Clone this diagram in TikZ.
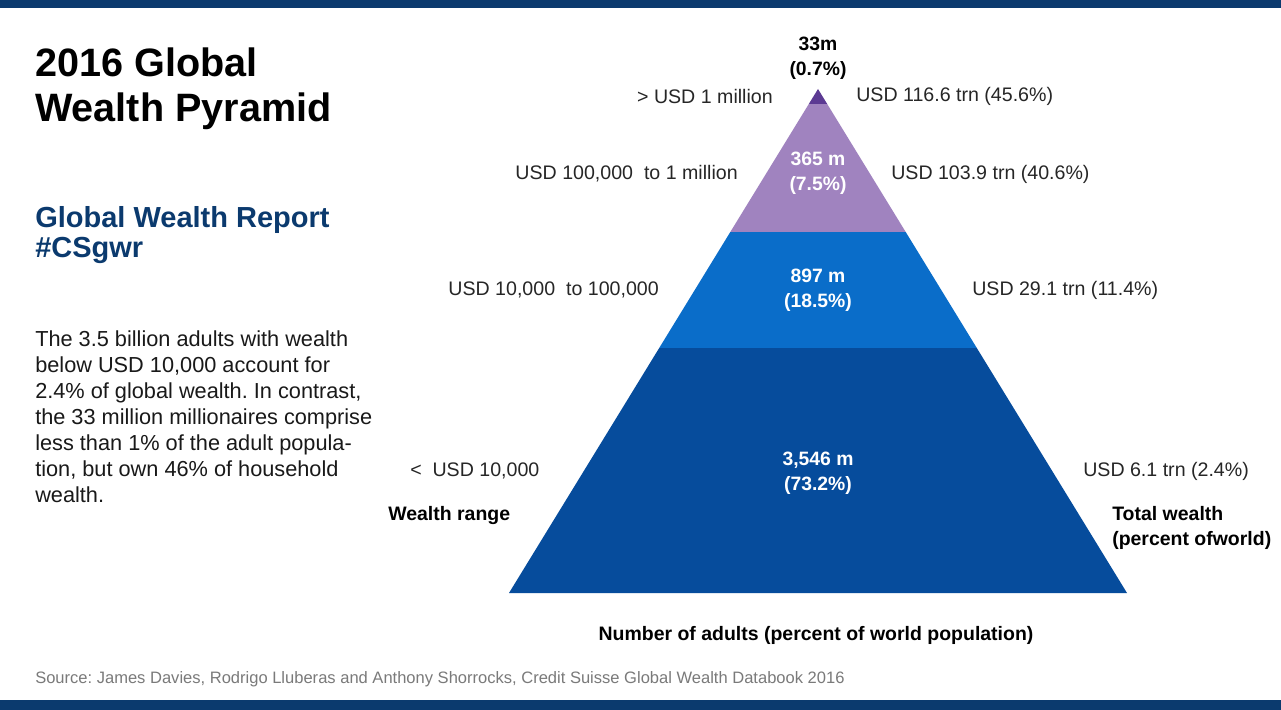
\documentclass[tikz,border=0pt]{standalone}
\usepackage{fontspec}
\setmainfont{Liberation Sans}
\frenchspacing
\definecolor{navy}{HTML}{0B3A6E}
\definecolor{dpurple}{HTML}{5C3A93}
\definecolor{lpurple}{HTML}{A083BF}
\definecolor{mblue}{HTML}{0A6DC9}
\definecolor{dblue}{HTML}{064C9C}
\definecolor{srcgray}{HTML}{7A7A7A}
\begin{document}
\begin{tikzpicture}[x=0.75pt,y=-0.75pt,
  lbl/.style={font=\fontsize{14.7}{17}\selectfont, text=black!85, inner sep=0},
  num/.style={font=\bfseries\fontsize{14.5}{19}\selectfont, text=white, align=center, inner sep=0},
  hdr/.style={font=\bfseries\fontsize{14.6}{18.7}\selectfont, text=black, inner sep=0, align=left}]
\useasboundingbox (0,0) rectangle (1281,710);
\fill[white] (0,0) rectangle (1281,710);
% border bars
\fill[navy] (0,0) rectangle (1281,8);
\fill[navy] (0,700) rectangle (1281,710);
% pyramid coordinates
\coordinate (apex) at (818,89);
\coordinate (l1) at (808.8,104); \coordinate (r1) at (827.2,104);
\coordinate (l2) at (730.3,232); \coordinate (r2) at (905.7,232);
\coordinate (l3) at (659.2,348); \coordinate (r3) at (976.8,348);
\coordinate (l4) at (509,593);   \coordinate (r4) at (1127,593);
\fill[dpurple] (apex) -- (r1) -- (l1) -- cycle;
\fill[lpurple] (l1) -- (r1) -- (r2) -- (l2) -- cycle;
\fill[mblue] (l2) -- (r2) -- (r3) -- (l3) -- cycle;
\fill[dblue] (l3) -- (r3) -- (r4) -- (l4) -- cycle;
% title block
\node[font=\bfseries\fontsize{29.7}{34}\selectfont, anchor=base west, inner sep=0] (t1) at (35,77) {2016 Global};
\node[font=\bfseries\fontsize{29.7}{34}\selectfont, anchor=base west, inner sep=0] (t2) at (35,122) {Wealth Pyramid};
\node[font=\bfseries\fontsize{21.75}{24}\selectfont, text=navy, anchor=base west, inner sep=0] (r1t) at (35,227) {Global Wealth Report};
\node[font=\bfseries\fontsize{21.75}{24}\selectfont, text=navy, anchor=base west, inner sep=0] (r2t) at (35,257) {\#CSgwr};
\node[font=\fontsize{16.3}{19.5}\selectfont, anchor=north west, align=left, inner sep=0, text=black!90] (body) at (35,330)
  {The 3.5 billion adults with wealth\\below USD 10,000 account for\\2.4\% of global wealth. In contrast,\\the 33 million millionaires comprise\\less than 1\% of the adult popula-\\tion, but own 46\% of household\\wealth.};
% numbers on pyramid
\node[num, text=black] (n0) at (818,58) {33m\\(0.7\%)};
\node[num] (n1) at (818,173) {365 m\\(7.5\%)};
\node[num] (n2) at (818,290) {897 m\\(18.5\%)};
\node[num] (n3) at (818,473) {3,546 m\\(73.2\%)};
% wealth range labels
\node[lbl, anchor=east] (w0) at (773,96) {> USD 1 million};
\node[lbl, anchor=east] (w1) at (738,174) {USD 100,000\ \ to 1 million};
\node[lbl, anchor=east] (w2) at (659,290) {USD 10,000\ \ to 100,000};
\node[lbl, anchor=west] (w3) at (410,471) {<\ \ USD 10,000};
% total wealth labels
\node[lbl, anchor=west] (v0) at (856,96) {USD 116.6 trn (45.6\%)};
\node[lbl, anchor=west] (v1) at (891,174) {USD 103.9 trn (40.6\%)};
\node[lbl, anchor=west] (v2) at (972,290) {USD 29.1 trn (11.4\%)};
\node[lbl, anchor=west] (v3) at (1083,471) {USD 6.1 trn (2.4\%)};
% axis headings
\node[hdr, anchor=base west] (wr) at (388,520) {Wealth range};
\node[hdr, anchor=north west] (tw) at (1112,506) {Total wealth\\(percent ofworld)};
\node[hdr, anchor=base] (na) at (816,640) {Number of adults (percent of world population)};
% source
\node[font=\fontsize{12.4}{14}\selectfont, text=srcgray, anchor=base west, inner sep=0] (src) at (35,683)
  {Source: James Davies, Rodrigo Lluberas and Anthony Shorrocks, Credit Suisse Global Wealth Databook 2016};
\end{tikzpicture}
\end{document}
